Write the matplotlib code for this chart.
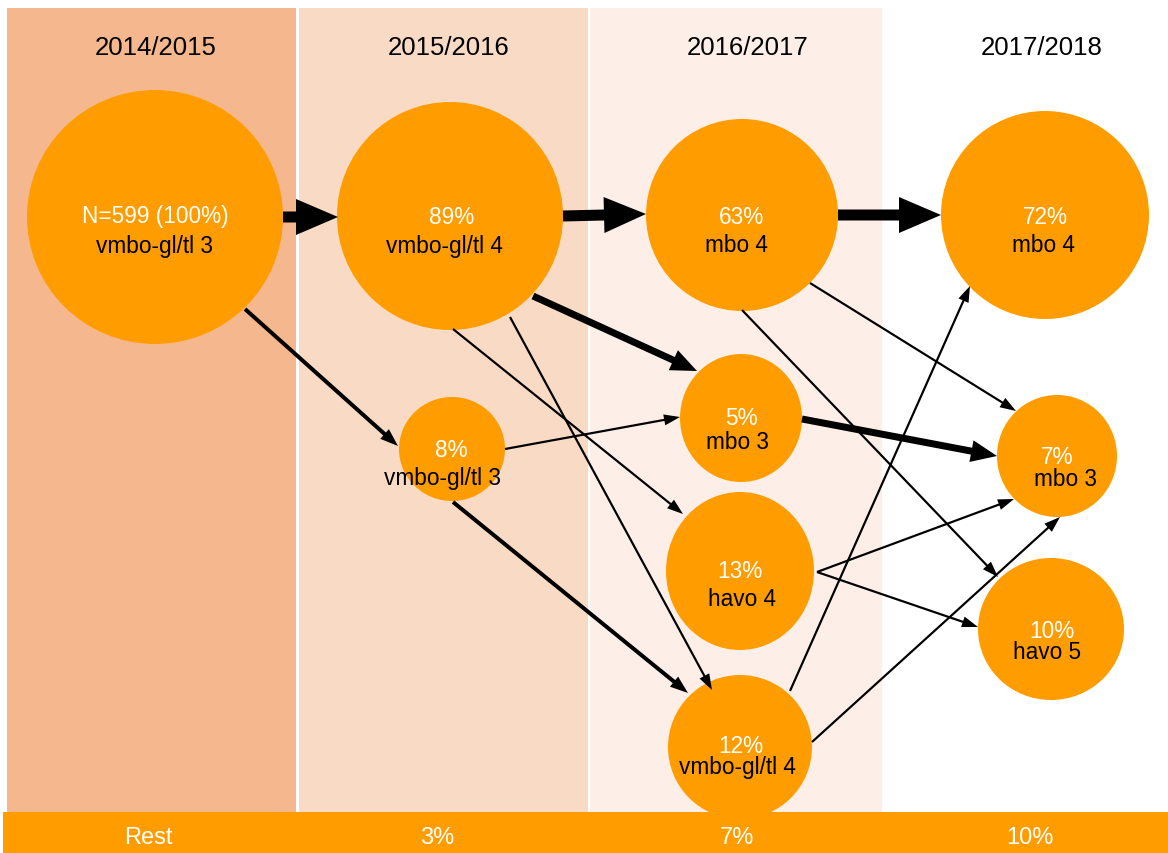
import matplotlib.pyplot as plt
from matplotlib.patches import Ellipse, Rectangle, FancyArrow

plt.rcParams['font.family'] = ['Liberation Sans', 'DejaVu Sans']

# Data
years = ["2014/2015", "2015/2016", "2016/2017", "2017/2018"]
rest = ["Rest", "3%", "7%", "10%"]
node_pct = ["N=599 (100%)", "89%", "8%", "63%", "5%", "13%", "12%", "72%", "7%", "10%"]
node_label = ["vmbo-gl/tl 3", "vmbo-gl/tl 4", "vmbo-gl/tl 3", "mbo 4", "mbo 3",
              "havo 4", "vmbo-gl/tl 4", "mbo 4", "mbo 3", "havo 5"]
# flows: (from node, to node, strength class 0=thin .. 3=main)
flows = [(0, 1, 3), (1, 3, 3), (3, 7, 3), (0, 2, 1), (1, 4, 2), (1, 5, 0),
         (1, 6, 0), (2, 4, 0), (2, 6, 1), (3, 8, 0), (3, 9, 0), (4, 8, 2),
         (5, 8, 0), (5, 9, 0), (6, 7, 0), (6, 8, 0)]

# Layout in pixel space (center x, center y, rx, ry)
layout = [(155, 218, 128, 127), (450, 217, 113, 114), (452, 450, 53, 52),
          (742, 216, 96, 96), (741, 419, 61, 64), (740, 572, 74, 79),
          (740, 748, 72, 72), (1045, 216, 104, 104), (1057, 457, 60, 61),
          (1051, 630, 73, 71)]
# text anchor positions (pct x, pct y, label x, label y)
text_pos = [(155, 217, 155, 246), (452, 217, 444, 246), (451, 451, 443, 479),
            (742, 217, 736, 246), (741, 419, 738, 443), (740, 572, 742, 600),
            (741, 747, 737, 768), (1045, 217, 1043, 246), (1057, 458, 1065, 480),
            (1052, 632, 1047, 653)]
# arrow endpoints (start, end) in pixels
arrow_pts = [((283, 218), (338, 218)), ((563, 217), (646, 215)),
             ((838, 216), (941, 216)), ((245, 310), (398, 447)),
             ((533, 297), (697, 372)), ((453, 330), (683, 515)),
             ((510, 318), (712, 691)), ((505, 450), (680, 418)),
             ((453, 503), (688, 694)), ((810, 284), (1016, 412)),
             ((742, 311), (998, 578)), ((802, 420), (997, 457)),
             ((817, 573), (1014, 500)), ((817, 573), (978, 628)),
             ((790, 692), (970, 287)), ((812, 743), (1060, 518))]
styles = {0: (2.2, 11, 16), 1: (4.0, 13, 18), 2: (7.0, 22, 26), 3: (11, 36, 42)}

ORANGE = "#FF9C00"
band_cols = ["#F5B88E", "#F9DAC4", "#FDEFE7", "#FFFFFF"]
band_x = [(7, 296), (299, 588), (590, 882), (884, 1168)]
year_x = [156, 449, 748, 1042]
rest_x = [148, 437, 737, 1030]

fig = plt.figure(figsize=(11.68, 8.54), dpi=100)
ax = fig.add_axes([0, 0, 1, 1])
ax.set_xlim(0, 1168)
ax.set_ylim(854, 0)
ax.axis('off')

for (x0, x1), c in zip(band_x, band_cols):
    ax.add_patch(Rectangle((x0, 9), x1 - x0, 804, color=c, lw=0, zorder=0))
for yr, x in zip(years, year_x):
    ax.text(x, 48, yr, ha='center', va='center', fontsize=18.5, color='black')

for cx, cy, rx, ry in layout:
    ax.add_patch(Ellipse((cx, cy), 2 * rx, 2 * ry, color=ORANGE, lw=0, zorder=2))

for (a, b, s), ((x0, y0), (x1, y1)) in zip(flows, arrow_pts):
    w, hw, hl = styles[s]
    ax.add_patch(FancyArrow(x0, y0, x1 - x0, y1 - y0, width=w, head_width=hw,
                            head_length=hl, length_includes_head=True,
                            color='black', lw=0, zorder=3))

for i, (px, py, lx, ly) in enumerate(text_pos):
    ax.text(px, py, node_pct[i], ha='center', va='center',
            fontsize=16.3, color='white', zorder=4)
    ax.text(lx, ly, node_label[i], ha='center', va='center',
            fontsize=16.3, color='black', zorder=4)

ax.add_patch(Rectangle((3, 813), 1165, 41, color=ORANGE, lw=0, zorder=5))
for r, x in zip(rest, rest_x):
    ax.text(x, 838, r, ha='center', va='center', fontsize=17, color='white', zorder=6)

fig.savefig("out.png", dpi=100)
